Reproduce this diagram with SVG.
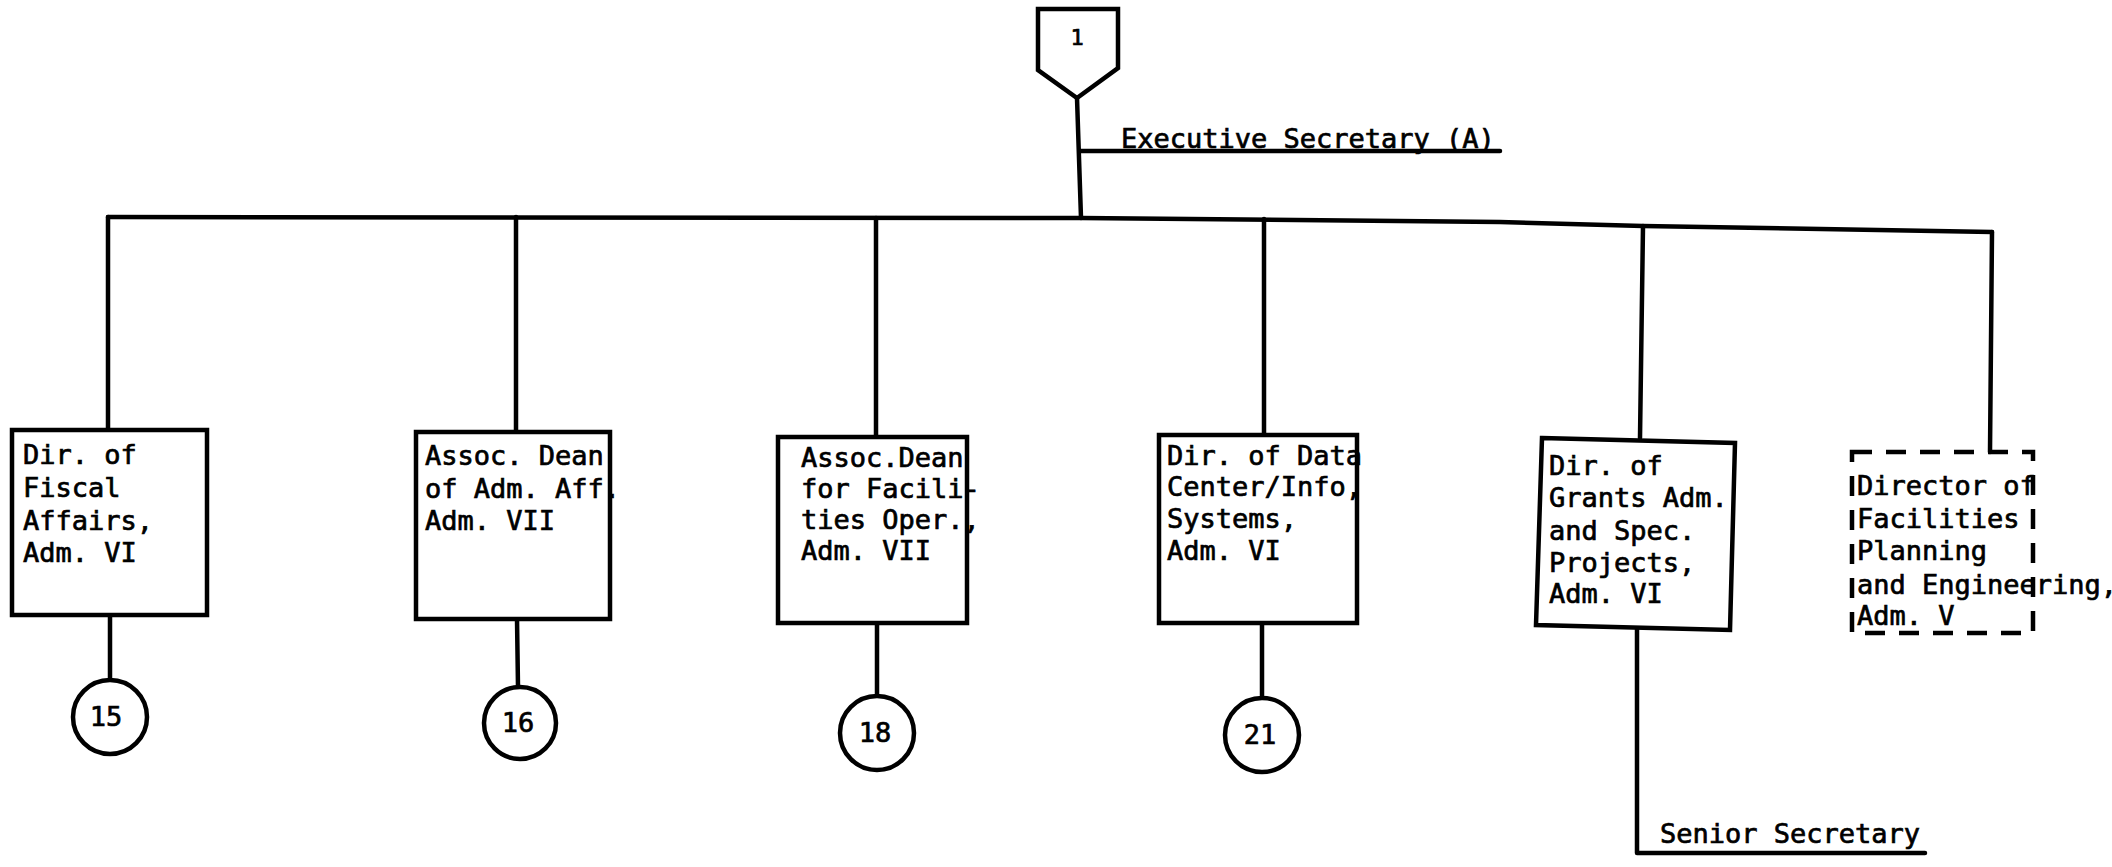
<svg xmlns="http://www.w3.org/2000/svg" width="2112" height="867" viewBox="0 0 2112 867">
<style>
.ln{fill:none;stroke:#000;stroke-width:4.5;stroke-linecap:round;stroke-linejoin:round}
.bx{fill:#fff;stroke:#000;stroke-width:4.5;stroke-linejoin:miter}
.dbx{fill:none;stroke:#000;stroke-width:4.5;stroke-dasharray:20 14}
.ci{fill:#fff;stroke:#000;stroke-width:4.5}
.t{font-family:"DejaVu Sans Mono","Liberation Mono",monospace;font-size:27px;fill:#000;stroke:#000;stroke-width:0.7}
.n{font-family:"DejaVu Sans Mono","Liberation Mono",monospace;font-size:27px;fill:#000;stroke:#000;stroke-width:0.7;text-anchor:middle}
</style>
<rect width="2112" height="867" fill="#fff"/>
<g id="connectors">
<polyline class="ln" points="1077,98 1081,218"/>
<polyline class="ln" points="1080,151 1500,151"/>
<polyline class="ln" points="108,217 1081,218 1500,222 1643,226 1992,232"/>
<polyline class="ln" points="108,217 108,430"/>
<polyline class="ln" points="516,217 516,432"/>
<polyline class="ln" points="876,218 876,437"/>
<polyline class="ln" points="1264,219 1264,435"/>
<polyline class="ln" points="1643,226 1640,438"/>
<polyline class="ln" points="1992,232 1990,452"/>
<polyline class="ln" points="110,615 110,680"/>
<polyline class="ln" points="517,619 518,687"/>
<polyline class="ln" points="877,623 877,696"/>
<polyline class="ln" points="1262,623 1262,698"/>
<polyline class="ln" points="1637,628 1637,853 1925,853"/>
</g>
<g id="node-1">
<polygon class="bx" points="1038,9 1118,9 1118,68 1077,98 1038,70"/>
<text class="n" x="1077" y="45" style="font-size:22px">1</text>
</g>
<g id="exec-secretary">
<text class="t" x="1121" y="148">Executive Secretary (A)</text>
</g>
<g id="fiscal">
<rect class="bx" x="12" y="430" width="195" height="185"/>
<text class="t" x="23" y="464">Dir. of</text>
<text class="t" x="23" y="497">Fiscal</text>
<text class="t" x="23" y="530">Affairs,</text>
<text class="t" x="23" y="562">Adm. VI</text>
</g>
<g id="c15"><circle class="ci" cx="110" cy="717" r="37"/><text class="n" x="106" y="726">15</text></g>
<g id="admaff">
<rect class="bx" x="416" y="432" width="194" height="187"/>
<text class="t" x="425" y="465">Assoc. Dean</text>
<text class="t" x="425" y="498">of Adm. Aff.</text>
<text class="t" x="425" y="530">Adm. VII</text>
</g>
<g id="c16"><circle class="ci" cx="520" cy="723" r="36"/><text class="n" x="518" y="732">16</text></g>
<g id="facops">
<rect class="bx" x="778" y="437" width="189" height="186"/>
<text class="t" x="801" y="467">Assoc.Dean</text>
<text class="t" x="801" y="498">for Facili-</text>
<text class="t" x="801" y="529">ties Oper.,</text>
<text class="t" x="801" y="560">Adm. VII</text>
</g>
<g id="c18"><circle class="ci" cx="877" cy="733" r="37"/><text class="n" x="875" y="742">18</text></g>
<g id="datacenter">
<rect class="bx" x="1159" y="435" width="198" height="188"/>
<text class="t" x="1167" y="465">Dir. of Data</text>
<text class="t" x="1167" y="496">Center/Info,</text>
<text class="t" x="1167" y="528">Systems,</text>
<text class="t" x="1167" y="560">Adm. VI</text>
</g>
<g id="c21"><circle class="ci" cx="1262" cy="735" r="37"/><text class="n" x="1260" y="744">21</text></g>
<g id="grants">
<polygon class="bx" points="1542,438 1735,443 1730,630 1536,625"/>
<text class="t" x="1549" y="475">Dir. of</text>
<text class="t" x="1549" y="507">Grants Adm.</text>
<text class="t" x="1549" y="540">and Spec.</text>
<text class="t" x="1549" y="572">Projects,</text>
<text class="t" x="1549" y="603">Adm. VI</text>
</g>
<g id="facplanning">
<rect class="dbx" x="1852" y="452" width="181" height="181"/>
<text class="t" x="1857" y="495">Director of</text>
<text class="t" x="1857" y="528">Facilities</text>
<text class="t" x="1857" y="560">Planning</text>
<text class="t" x="1857" y="594">and Engineering,</text>
<text class="t" x="1857" y="625">Adm. V</text>
</g>
<g id="senior-secretary">
<text class="t" x="1660" y="843">Senior Secretary</text>
</g>
</svg>
